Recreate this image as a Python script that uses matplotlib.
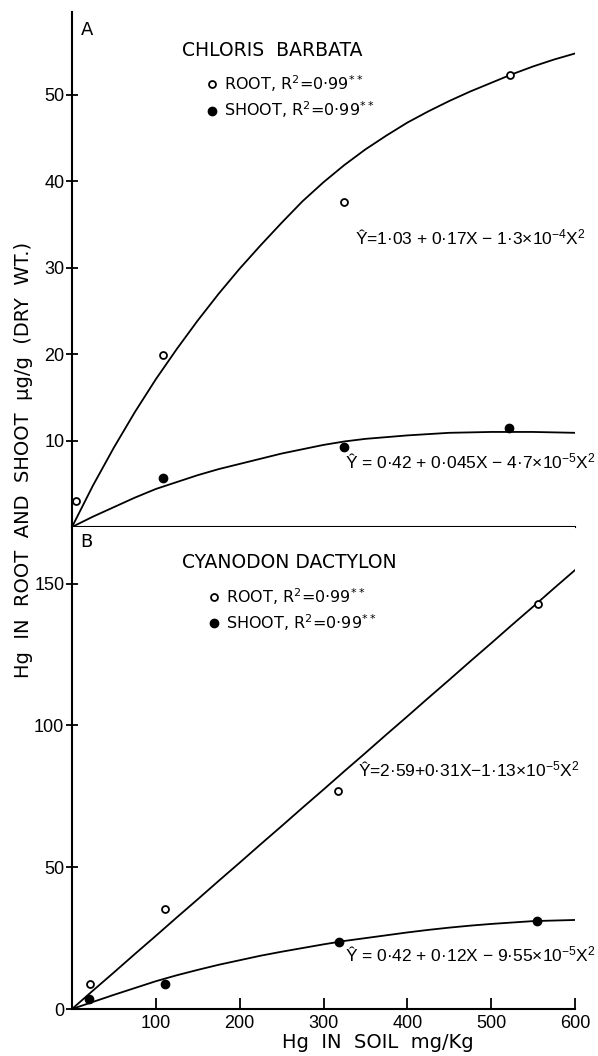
import numpy as np
import matplotlib
matplotlib.use("Agg")
from matplotlib import pyplot as plt

plt.rcParams['font.family'] = ['DejaVu Sans']
plt.rcParams['mathtext.fontset'] = 'dejavusans'
plt.rcParams['mathtext.default'] = 'regular'

# ---- data ----
# panel A : Chloris barbata
a_root_x = [5, 108, 324, 522]
a_root_y = [3.0, 19.9, 37.6, 52.3]
a_shoot_x = [108, 325, 521]
a_shoot_y = [5.7, 9.3, 11.5]

# fitted curves as drawn, read every 25 mg/Kg
curve_x = [0, 25, 50, 75, 100, 125, 150, 175, 200, 225, 250, 275, 300,
           325, 350, 375, 400, 425, 450, 475, 500, 525, 550, 575, 600]
a_root_fit = [0, 4.8, 9.2, 13.3, 17.1, 20.6, 23.9, 27.0, 29.9, 32.6, 35.2, 37.7, 39.9,
              41.9, 43.7, 45.3, 46.8, 48.1, 49.3, 50.4, 51.4, 52.4, 53.3, 54.1, 54.8]
a_shoot_fit = [0, 1.2, 2.3, 3.4, 4.4, 5.2, 6.0, 6.7, 7.3, 7.9, 8.5, 9.0, 9.5,
               9.9, 10.2, 10.4, 10.6, 10.75, 10.9, 10.95, 11.0, 11.0, 11.0, 10.95, 10.9]

# panel B : Cyanodon dactylon
b_root_x = [21, 111, 317, 556]
b_root_y = [8.7, 35.3, 77.0, 142.8]
b_shoot_x = [20, 111, 318, 555]
b_shoot_y = [3.4, 8.7, 23.6, 31.2]

b_root_fit = [0, 6.5, 12.9, 19.4, 25.8, 32.3, 38.7, 45.2, 51.6, 58.1, 64.5, 71.0, 77.4,
              83.9, 90.3, 96.8, 103.2, 109.7, 116.1, 122.6, 129.0, 135.5, 141.9, 148.4, 154.8]
b_shoot_fit = [0, 2.5, 5.0, 7.4, 9.8, 11.9, 13.8, 15.6, 17.2, 18.8, 20.2, 21.5, 22.8,
               24.0, 25.0, 26.0, 27.0, 27.9, 28.7, 29.4, 30.0, 30.5, 31.0, 31.2, 31.4]

x_ticks = [100, 200, 300, 400, 500, 600]
a_yticks = [10, 20, 30, 40, 50]
b_yticks = [0, 50, 100, 150]

W, H = 598, 1056
fig = plt.figure(figsize=(W / 100, H / 100), dpi=100)

L, R = 72 / W, 575 / W
axA = fig.add_axes([L, 1 - 527 / H, R - L, (527 - 12) / H])
axB = fig.add_axes([L, 1 - 1009 / H, R - L, (1009 - 527) / H])

NARROW = 'Liberation Sans'
FS_TICK = 13
FS_EQ = 12.5
FS_LEG = 11.5
FS_TITLE = 13.5

for ax in (axA, axB):
    ax.spines['right'].set_visible(False)
    ax.spines['top'].set_visible(False)
    ax.spines['left'].set_linewidth(1.5)
    ax.spines['bottom'].set_linewidth(1.5)
    ax.set_xlim(0, 600)
    ax.tick_params(axis='y', direction='inout', length=9, width=1.3, labelsize=FS_TICK, pad=1)
    ax.tick_params(axis='x', direction='in', length=8, width=1.3, labelsize=FS_TICK, pad=4)
    for lab in ax.get_xticklabels() + ax.get_yticklabels():
        lab.set_family(NARROW)

# panel A
axA.set_ylim(0, 59.6)
axA.set_yticks(a_yticks)
axA.set_yticklabels([str(v) for v in a_yticks], family=NARROW)
axA.set_xticks([])
axA.plot(curve_x, a_root_fit, 'k-', lw=1.3)
axA.plot(curve_x, a_shoot_fit, 'k-', lw=1.3)
hA1, = axA.plot(a_root_x, a_root_y, 'o', mfc='white', mec='black', ms=5, mew=1.3,
                label=r'ROOT, R$^2$=0·99$^{**}$')
hA2, = axA.plot(a_shoot_x, a_shoot_y, 'o', mfc='black', mec='black', ms=6,
                label=r'SHOOT, R$^2$=0·99$^{**}$')
axA.text(17.9, 57.5, 'A', fontsize=FS_TICK, ha='center', va='center')
axA.text(131, 55.1, 'CHLORIS  BARBATA', fontsize=FS_TITLE, ha='left', va='center')
axA.legend(handles=[hA1, hA2], loc='upper left', bbox_to_anchor=(0.27, 0.881),
           frameon=False, fontsize=FS_LEG, handlelength=0.5, handletextpad=0.5,
           borderpad=0, borderaxespad=0, labelspacing=0.35)
axA.text(337, 33.5, 'Ŷ=1·03 + 0·17X − 1·3×10$^{-4}$X$^2$', family=NARROW,
         fontsize=FS_EQ, ha='left', va='center')
axA.text(325.7, 7.5, 'Ŷ = 0·42 + 0·045X − 4·7×10$^{-5}$X$^2$', family=NARROW,
         fontsize=FS_EQ, ha='left', va='center')

# panel B
axB.set_ylim(0, 170)
axB.set_yticks(b_yticks)
axB.set_yticklabels([str(v) for v in b_yticks], family=NARROW)
axB.set_xticks(x_ticks)
axB.set_xticklabels([str(v) for v in x_ticks], family=NARROW)
axB.plot(curve_x, b_root_fit, 'k-', lw=1.3)
axB.plot(curve_x, b_shoot_fit, 'k-', lw=1.3)
hB1, = axB.plot(b_root_x, b_root_y, 'o', mfc='white', mec='black', ms=5, mew=1.3,
                label=r'ROOT, R$^2$=0·99$^{**}$')
hB2, = axB.plot(b_shoot_x, b_shoot_y, 'o', mfc='black', mec='black', ms=6,
                label=r'SHOOT, R$^2$=0·99$^{**}$')
axB.text(17.5, 164.7, 'B', fontsize=FS_TICK, ha='center', va='center')
axB.text(131, 157.5, 'CYANODON DACTYLON', fontsize=FS_TITLE, ha='left', va='center')
axB.legend(handles=[hB1, hB2], loc='upper left', bbox_to_anchor=(0.275, 0.878),
           frameon=False, fontsize=FS_LEG, handlelength=0.5, handletextpad=0.5,
           borderpad=0, borderaxespad=0, labelspacing=0.35)
axB.text(341, 84.3, 'Ŷ=2·59+0·31X−1·13×10$^{-5}$X$^2$', family=NARROW,
         fontsize=FS_EQ, ha='left', va='center')
axB.text(325.7, 19.1, 'Ŷ = 0·42 + 0·12X − 9·55×10$^{-5}$X$^2$', family=NARROW,
         fontsize=FS_EQ, ha='left', va='center')

fig.text(378 / W, 1 - 1043 / H, 'Hg  IN  SOIL  mg/Kg', fontsize=14, ha='center', va='center')
fig.text(24 / W, 1 - 460 / H, 'Hg  IN  ROOT  AND  SHOOT  μg/g  (DRY  WT.)', fontsize=14,
         rotation=90, ha='center', va='center')

fig.savefig('out.png', dpi=100)
